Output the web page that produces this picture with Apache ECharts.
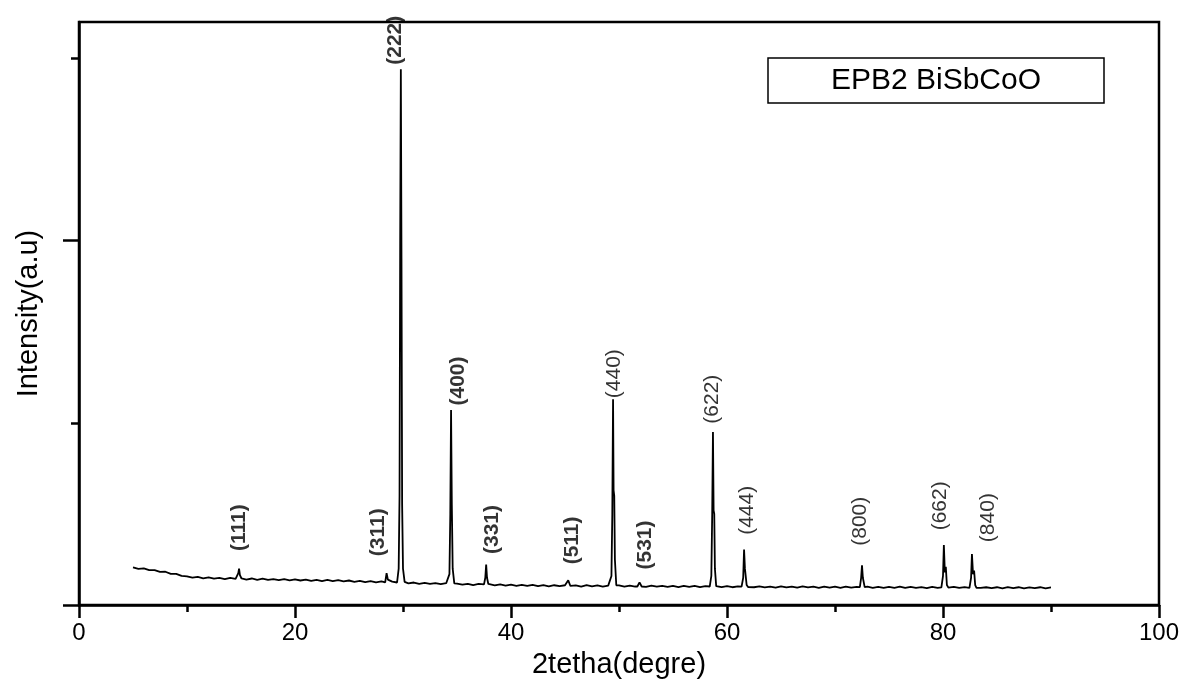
<!DOCTYPE html>
<html>
<head>
<meta charset="utf-8">
<title>EPB2 BiSbCoO</title>
<script src="https://cdn.jsdelivr.net/npm/echarts@6/dist/echarts.min.js"></script>
<style>
  html, body { margin: 0; padding: 0; background: #fff; }
  #chart { width: 1186px; height: 684px; }
</style>
</head>
<body>
<div id="chart"></div>
<script>
// scan: baseline read every 0.5 deg from 5 to 90
var baseStart = 5, baseStep = 0.5;
var baseline = [
  0.207, 0.199, 0.202, 0.192, 0.192, 0.182, 0.183, 0.171, 0.171, 0.160,
  0.158, 0.151, 0.155, 0.147, 0.152, 0.145, 0.149, 0.143, 0.150, 0.144,
  0.147, 0.140, 0.146, 0.139, 0.145, 0.138, 0.143, 0.137, 0.143, 0.136,
  0.141, 0.135, 0.140, 0.133, 0.139, 0.132, 0.138, 0.131, 0.137, 0.130,
  0.135, 0.128, 0.133, 0.126, 0.132, 0.125, 0.130, 0.124, 0.129, 0.122,
  0.127, 0.119, 0.124, 0.117, 0.122, 0.116, 0.121, 0.115, 0.120, 0.113,
  0.118, 0.112, 0.117, 0.110, 0.116, 0.109, 0.115, 0.108, 0.114, 0.107,
  0.112, 0.106, 0.111, 0.105, 0.111, 0.104, 0.110, 0.103, 0.109, 0.104,
  0.109, 0.103, 0.108, 0.102, 0.109, 0.103, 0.108, 0.101, 0.107, 0.102,
  0.108, 0.101, 0.107, 0.102, 0.106, 0.100, 0.107, 0.101, 0.106, 0.100,
  0.105, 0.099, 0.106, 0.100, 0.105, 0.098, 0.104, 0.099, 0.105, 0.098,
  0.104, 0.098, 0.103, 0.097, 0.104, 0.098, 0.103, 0.097, 0.102, 0.096,
  0.103, 0.097, 0.102, 0.096, 0.103, 0.097, 0.101, 0.095, 0.102, 0.096,
  0.101, 0.095, 0.102, 0.096, 0.100, 0.094, 0.101, 0.095, 0.100, 0.094,
  0.100, 0.095, 0.101, 0.094, 0.100, 0.095, 0.099, 0.093, 0.100, 0.094,
  0.099, 0.093, 0.100, 0.094, 0.099, 0.093, 0.099, 0.094, 0.098, 0.093,
  0.098, 0.092, 0.099, 0.093, 0.098, 0.092, 0.097, 0.093, 0.098, 0.092,
  0.097
];

// reflections, [2theta, intensity]
var peaks = [
  [[14.6, 0.145], [14.75, 0.175], [14.82, 0.200], [14.9, 0.165], [15.05, 0.146]],
  [[28.35, 0.125], [28.48, 0.175], [28.6, 0.140], [28.7, 0.130]],
  [[29.45, 0.124], [29.6, 0.200], [29.68, 0.600], [29.74, 2.000], [29.8, 2.940],
   [29.86, 1.900], [29.92, 0.550], [30.0, 0.200], [30.15, 0.127]],
  [[34.15, 0.117], [34.3, 0.170], [34.38, 0.500], [34.45, 1.070], [34.52, 0.550],
   [34.6, 0.200], [34.75, 0.119]],
  [[37.5, 0.114], [37.62, 0.150], [37.7, 0.223], [37.78, 0.150], [37.9, 0.116]],
  [[45.1, 0.104], [45.3, 0.136], [45.5, 0.105]],
  [[49.15, 0.104], [49.3, 0.160], [49.38, 0.500], [49.45, 1.130], [49.5, 0.630],
   [49.56, 0.600], [49.62, 0.250], [49.75, 0.109]],
  [[51.7, 0.102], [51.9, 0.125], [52.1, 0.102]],
  [[58.4, 0.102], [58.55, 0.160], [58.63, 0.500], [58.7, 0.950], [58.76, 0.520],
   [58.82, 0.500], [58.88, 0.200], [59.0, 0.104]],
  [[61.35, 0.101], [61.5, 0.150], [61.58, 0.305], [61.66, 0.200], [61.74, 0.190],
   [61.82, 0.110], [61.95, 0.099]],
  [[72.3, 0.099], [72.42, 0.150], [72.5, 0.218], [72.58, 0.150], [72.66, 0.140],
   [72.75, 0.099]],
  [[79.85, 0.097], [80.0, 0.160], [80.08, 0.330], [80.17, 0.180], [80.26, 0.210],
   [80.36, 0.110], [80.5, 0.096]],
  [[82.45, 0.095], [82.6, 0.150], [82.68, 0.280], [82.78, 0.170], [82.88, 0.190],
   [82.98, 0.110], [83.1, 0.095]]
];

// hkl labels [2theta, intensity at label centre, text]
var boldLabels = [
  [14.8, 0.425, '(111)'],
  [27.7, 0.40, '(311)'],
  [29.3, 3.10, '(222)'],
  [35.1, 1.23, '(400)'],
  [38.25, 0.415, '(331)'],
  [45.65, 0.355, '(511)'],
  [52.4, 0.33, '(531)']
];
var plainLabels = [
  [49.6, 1.27, '(440)'],
  [58.6, 1.13, '(622)'],
  [61.85, 0.52, '(444)'],
  [72.3, 0.46, '(800)'],
  [79.7, 0.545, '(662)'],
  [84.15, 0.48, '(840)']
];

var yMajorTicks = [0, 2];
var yMinorTicks = [1, 3];
var sampleName = 'EPB2 BiSbCoO';

var ranges = peaks.map(function (p) { return [p[0][0], p[p.length - 1][0]]; });
var pts = baseline.map(function (v, i) { return [baseStart + i * baseStep, v]; })
  .filter(function (d) {
    return !ranges.some(function (r) { return d[0] >= r[0] && d[0] <= r[1]; });
  });
peaks.forEach(function (p) { pts = pts.concat(p); });
pts.sort(function (a, b) { return a[0] - b[0]; });

var font = "'Liberation Sans', Arial, sans-serif";
var chart = echarts.init(document.getElementById('chart'));

function labelSeries(list, weight) {
  return {
    type: 'scatter',
    symbolSize: 0,
    silent: true,
    data: list,
    label: {
      show: true,
      position: 'inside',
      rotate: 90,
      align: 'center',
      verticalAlign: 'middle',
      color: '#000',
      fontFamily: font,
      fontSize: 21,
      fontWeight: weight,
      formatter: function (p) { return p.data[2]; }
    }
  };
}

var option = {
  animation: false,
  backgroundColor: '#fff',
  grid: {
    left: 79, right: 27, top: 22, bottom: 75,
    show: true, borderColor: '#000', borderWidth: 2.5
  },
  xAxis: {
    type: 'value',
    min: 0, max: 100, interval: 20,
    name: '2tetha(degre)',
    nameLocation: 'middle',
    nameGap: 43,
    nameTextStyle: { color: '#000', fontFamily: font, fontSize: 29 },
    axisLine: { lineStyle: { color: '#000', width: 2.5 } },
    axisTick: { length: 13, lineStyle: { color: '#000', width: 2.5 } },
    minorTick: { show: true, splitNumber: 2, length: 7, lineStyle: { color: '#000', width: 2.5 } },
    axisLabel: { color: '#000', fontFamily: font, fontSize: 24, margin: 16 },
    splitLine: { show: false }
  },
  yAxis: [{
    type: 'value',
    min: 0, max: 3.2,
    name: 'Intensity(a.u)',
    nameLocation: 'middle',
    nameGap: 36,
    nameTextStyle: { color: '#000', fontFamily: font, fontSize: 29 },
    axisLine: { show: true, lineStyle: { color: '#000', width: 2.5 } },
    axisTick: { show: true, length: 16, customValues: yMajorTicks, lineStyle: { color: '#000', width: 2.5 } },
    axisLabel: { show: false },
    splitLine: { show: false }
  }, {
    type: 'value',
    min: 0, max: 3.2,
    position: 'left',
    axisLine: { show: false },
    axisTick: { show: true, length: 8, customValues: yMinorTicks, lineStyle: { color: '#000', width: 2.5 } },
    axisLabel: { show: false },
    splitLine: { show: false }
  }],
  graphic: [{
    type: 'rect',
    shape: { x: 768, y: 58, width: 336, height: 45 },
    style: { fill: '#fff', stroke: '#000', lineWidth: 1.5 },
    silent: true
  }, {
    type: 'text',
    x: 936, y: 81,
    style: {
      text: sampleName, fill: '#000', font: '30px ' + font,
      textAlign: 'center', textVerticalAlign: 'middle'
    },
    silent: true
  }],
  series: [{
    name: sampleName,
    type: 'line',
    data: pts,
    showSymbol: false,
    silent: true,
    lineStyle: { color: '#000', width: 1.8 }
  }, labelSeries(boldLabels, 'bold'), labelSeries(plainLabels, 'normal')]
};

chart.setOption(option);
</script>
</body>
</html>
